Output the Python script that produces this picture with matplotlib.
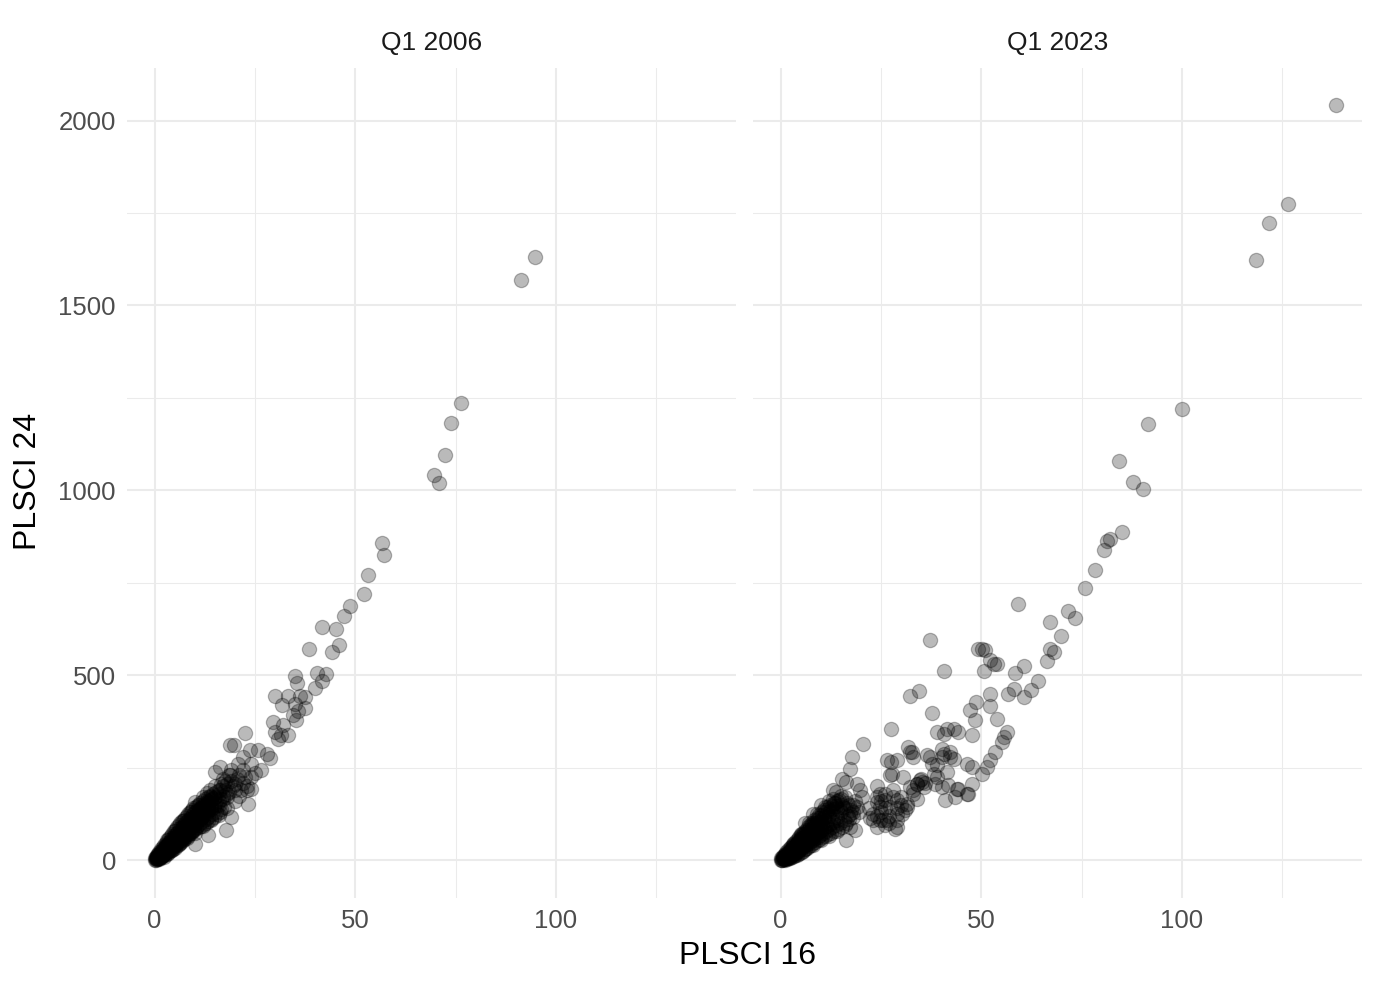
import numpy as np
import matplotlib
matplotlib.use("Agg")
import matplotlib.pyplot as plt

plt.rcParams['font.family'] = ['Liberation Sans', 'DejaVu Sans']

# facet labels and axis labels
panels = ["Q1 2006", "Q1 2023"]
x_label = "PLSCI 16"
y_label = "PLSCI 24"
x_major = [0, 50, 100]
x_minor = [25, 75, 125]
y_major = [0, 500, 1000, 1500, 2000]
y_minor = [250, 750, 1250, 1750]

# Q1 2006 points (PLSCI 16, PLSCI 24)
pts_2006 = np.array([
    # dense band near the origin
    (0.2, 2), (0.3, 4), (0.4, 5), (0.5, 9), (0.6, 6), (0.7, 4), (0.8, 12), (0.9, 7),
    (1.0, 16), (1.0, 9), (1.1, 10), (1.2, 5), (1.3, 20), (1.4, 13), (1.5, 8), (1.5, 14),
    (1.6, 24), (1.7, 16), (1.8, 11), (1.9, 28), (2.0, 20), (2.0, 18), (2.1, 14), (2.2, 32),
    (2.3, 24), (2.4, 17), (2.5, 36), (2.6, 28), (2.7, 20), (2.8, 40), (2.9, 31), (3.0, 23),
    (3.2, 45), (3.3, 35), (3.4, 26), (3.6, 50), (3.7, 39), (3.8, 30), (4.0, 55), (4.1, 43),
    (4.2, 33), (4.4, 60), (4.5, 47), (4.6, 37), (4.8, 65), (4.9, 51), (5.0, 40), (5.2, 70),
    (5.3, 56), (5.4, 44), (5.6, 75), (5.7, 60), (5.8, 48), (6.0, 80), (6.1, 64), (6.2, 52),
    (6.4, 86), (6.5, 69), (6.6, 56), (6.8, 91), (6.9, 73), (7.0, 60), (7.2, 96), (7.3, 78),
    (7.4, 64), (7.6, 101), (7.7, 83), (7.8, 68), (8.0, 106), (8.1, 88), (8.2, 72), (8.5, 112),
    (8.6, 93), (8.7, 76), (9.0, 118), (9.1, 98), (9.2, 80), (9.5, 124), (9.6, 103), (9.7, 85),
    (10.0, 130), (10.1, 108), (10.2, 90), (10.6, 136), (10.7, 114), (10.8, 95), (11.2, 142),
    (11.3, 120), (11.4, 100), (11.8, 148), (11.9, 126), (12.0, 106), (12.5, 154), (12.6, 132),
    (12.7, 112), (13.2, 160), (13.3, 138), (13.4, 118), (14.0, 166), (14.1, 145), (14.2, 124),
    (15.0, 172), (15.1, 152), (15.2, 130), (16.0, 160), (16.5, 138), (17.0, 175),
    (0.3, 1), (0.5, 3), (0.6, 8), (0.9, 11), (1.2, 9), (1.4, 17), (1.7, 12), (2.0, 25),
    (2.2, 18), (2.5, 30), (2.6, 22), (3.0, 38), (3.1, 28), (3.5, 44), (3.6, 33), (4.0, 48),
    (4.1, 38), (4.5, 54), (4.6, 42), (5.0, 60), (5.1, 47), (5.5, 66), (5.6, 52), (6.0, 72),
    (6.1, 57), (6.5, 78), (6.6, 62), (7.0, 84), (7.1, 67), (7.5, 90), (7.6, 72), (8.0, 96),
    (8.1, 78), (8.5, 102), (8.6, 84), (9.0, 108), (9.1, 89), (9.5, 114), (9.6, 94),
    (10.0, 120), (10.1, 99), (10.5, 126), (10.6, 104), (11.0, 132), (11.1, 110), (11.5, 138),
    (11.6, 115), (12.0, 144), (12.1, 120), (12.6, 150), (12.7, 126), (13.3, 156), (13.4, 132),
    (14.0, 162), (14.1, 138), (14.8, 168), (14.9, 144), (15.5, 150), (16.0, 190), (16.5, 165),
    (17.5, 190), (18.0, 205), (18.5, 185), (12.0, 170), (13.0, 182), (11.0, 150), (9.0, 130),
    (7.0, 105), (5.0, 80), (3.0, 55), (8.0, 60), (10.0, 75), (12.0, 92), (14.0, 108),
    (16.0, 122), (6.0, 45), (4.0, 28),
    (0.2, 6), (0.4, 10), (0.6, 14), (0.8, 18), (1.0, 4), (1.2, 22), (1.4, 6), (1.6, 30),
    (1.8, 20), (2.0, 36), (2.2, 10), (2.4, 42), (2.6, 14), (2.8, 48), (3.0, 16), (3.2, 54),
    (3.4, 20), (3.6, 60), (3.8, 24), (4.0, 66), (4.2, 28), (4.4, 72), (4.6, 30), (4.8, 78),
    (5.0, 34), (5.2, 84), (5.4, 38), (5.6, 90), (5.8, 42), (6.0, 95), (6.2, 46), (6.4, 100),
    (6.6, 50), (6.8, 105), (7.0, 54), (7.2, 110), (7.4, 58), (7.6, 115), (7.8, 62), (8.0, 120),
    (8.2, 66), (8.4, 125), (8.6, 70), (8.8, 130), (9.0, 74), (9.2, 135), (9.4, 78), (9.6, 140),
    (9.8, 82), (10.2, 145), (10.4, 86), (10.8, 150), (11.0, 90), (11.4, 155), (11.6, 94),
    (12.0, 160), (12.2, 98), (12.6, 165), (12.8, 102), (13.2, 170), (13.4, 106), (13.8, 175),
    (14.0, 112), (14.6, 180), (14.8, 118), (15.4, 185), (15.6, 124), (16.2, 190), (16.4, 130),
    (17.0, 165), (17.2, 145), (18.0, 180), (3.0, 40), (5.0, 62), (7.0, 88), (9.0, 112),
    (11.0, 136), (13.0, 150),
    # halo around the band
    (13.7, 189), (10.0, 158), (11.2, 135), (19.1, 117), (17.9, 81), (13.3, 68), (10.0, 45),
    (16.0, 180), (17.0, 200), (18.0, 170), (19.0, 215), (20.0, 190), (21.0, 230), (22.0, 210),
    (18.0, 140), (16.0, 150), (14.0, 170), (20.0, 160), (22.0, 245), (24.0, 225), (21.0, 175),
    (19.0, 245), (17.0, 220), (15.0, 200), (23.0, 200), (25.0, 235),
    (17.5, 215), (19.5, 200), (21.5, 190), (20.5, 220), (18.5, 230), (22.5, 225), (16.5, 205),
    (22.4, 344), (18.7, 311), (19.7, 313), (23.7, 297), (25.8, 297), (27.9, 288), (28.7, 277),
    (22.0, 279), (20.8, 261), (24.1, 261), (26.6, 243), (16.2, 252), (15.0, 239), (18.7, 230),
    (20.0, 207), (22.9, 189), (24.1, 194), (23.3, 153),
    # middle stretch
    (29.5, 374), (32.0, 365), (29.9, 347), (31.6, 338), (33.2, 338), (30.7, 329),
    (29.9, 444), (33.2, 444), (36.2, 444), (37.4, 441), (31.8, 421), (34.9, 423), (37.4, 412),
    (35.7, 403), (34.5, 392), (35.3, 380), (34.9, 498), (35.5, 480),
    (40.5, 506), (42.7, 504), (41.8, 485), (40.0, 466), (38.5, 572), (44.1, 564), (45.9, 581),
    (45.2, 625), (41.8, 631), (47.1, 660), (48.6, 687), (52.2, 719), (53.2, 772),
    (57.2, 824), (56.6, 857),
    # upper tail
    (69.6, 1041), (70.8, 1019), (72.3, 1097), (73.8, 1182), (76.3, 1235),
    (91.3, 1568), (94.8, 1632),
])

# Q1 2023 points (PLSCI 16, PLSCI 24)
pts_2023 = np.array([
    # dense band near the origin
    (0.2, 2), (0.4, 6), (0.5, 3), (0.7, 10), (0.8, 5), (1.0, 14), (1.1, 8), (1.2, 4),
    (1.4, 18), (1.5, 11), (1.6, 6), (1.8, 22), (1.9, 14), (2.0, 8), (2.2, 26), (2.3, 17),
    (2.4, 10), (2.6, 30), (2.7, 21), (2.8, 13), (3.0, 35), (3.1, 25), (3.2, 16), (3.4, 40),
    (3.5, 29), (3.6, 19), (3.8, 45), (3.9, 33), (4.0, 22), (4.2, 50), (4.3, 37), (4.4, 26),
    (4.6, 55), (4.7, 41), (4.8, 30), (5.0, 60), (5.1, 46), (5.2, 33), (5.4, 66), (5.5, 50),
    (5.6, 36), (5.8, 71), (5.9, 54), (6.0, 40), (6.3, 77), (6.4, 59), (6.5, 44), (6.8, 83),
    (6.9, 64), (7.0, 48), (7.3, 89), (7.4, 69), (7.5, 52), (7.8, 95), (7.9, 74), (8.0, 56),
    (8.4, 101), (8.5, 80), (8.6, 60), (9.0, 108), (9.1, 86), (9.2, 64), (9.6, 115), (9.7, 92),
    (9.8, 68), (10.3, 122), (10.4, 98), (10.5, 73), (11.0, 130), (11.1, 105), (11.2, 78),
    (11.8, 138), (11.9, 112), (12.0, 84), (12.7, 146), (12.8, 120), (12.9, 90), (13.6, 154),
    (13.7, 128), (13.8, 96), (14.6, 162), (14.7, 136), (14.8, 102), (15.6, 145), (15.8, 110),
    (16.5, 155), (16.8, 120), (12.0, 160), (10.0, 150), (8.0, 125), (6.0, 100), (17.5, 135),
    (18.0, 150), (14.0, 118),
    (0.3, 1), (0.6, 4), (0.9, 8), (1.2, 12), (1.3, 6), (1.7, 16), (1.8, 9), (2.1, 20),
    (2.2, 12), (2.5, 25), (2.6, 15), (2.9, 30), (3.0, 19), (3.3, 34), (3.4, 22), (3.7, 39),
    (3.8, 25), (4.1, 44), (4.2, 29), (4.5, 48), (4.6, 33), (4.9, 53), (5.0, 37), (5.3, 58),
    (5.4, 41), (5.7, 63), (5.8, 45), (6.2, 68), (6.3, 49), (6.7, 74), (6.8, 53), (7.2, 80),
    (7.3, 57), (7.7, 86), (7.8, 61), (8.2, 92), (8.3, 66), (8.8, 98), (8.9, 71), (9.4, 104),
    (9.5, 76), (10.0, 110), (10.1, 81), (10.7, 118), (10.8, 86), (11.4, 124), (11.5, 92),
    (12.2, 132), (12.3, 98), (13.0, 138), (13.1, 104), (13.9, 146), (14.0, 110), (15.0, 130),
    (15.2, 150), (16.0, 140), (17.0, 112), (18.0, 130), (19.0, 145), (9.0, 125), (7.0, 100),
    (11.0, 145), (13.0, 165), (15.0, 175), (5.0, 72), (3.0, 45), (4.0, 20), (6.0, 30),
    (8.0, 42), (10.0, 55), (12.0, 65), (14.0, 80), (16.0, 95),
    (0.2, 5), (0.4, 2), (0.6, 12), (0.8, 3), (1.0, 18), (1.2, 2), (1.4, 22), (1.6, 4),
    (1.8, 27), (2.0, 5), (2.2, 32), (2.4, 7), (2.6, 37), (2.8, 9), (3.0, 42), (3.2, 11),
    (3.4, 47), (3.6, 13), (3.8, 52), (4.0, 15), (4.2, 57), (4.4, 17), (4.6, 62), (4.8, 20),
    (5.0, 67), (5.2, 23), (5.4, 72), (5.6, 26), (5.8, 77), (6.0, 30), (6.3, 83), (6.5, 34),
    (6.8, 90), (7.0, 38), (7.3, 96), (7.5, 42), (7.8, 102), (8.0, 46), (8.4, 108), (8.6, 50),
    (9.0, 115), (9.2, 54), (9.6, 122), (9.8, 58), (10.2, 130), (10.4, 62), (10.8, 137),
    (11.0, 66), (11.6, 144), (11.8, 70), (12.4, 150), (12.6, 74), (13.2, 156), (13.4, 78),
    (14.0, 160), (14.2, 84), (15.0, 165), (15.2, 90), (16.0, 170), (16.2, 100), (17.0, 150),
    (17.2, 125), (18.5, 160), (19.5, 130), (2.0, 20), (4.0, 40), (6.0, 60), (8.0, 80),
    (10.0, 100), (12.0, 120), (14.0, 140),
    # halo around the band
    (20.4, 315), (17.7, 279), (17.25, 248), (15.2, 221), (16.4, 212), (13.9, 185), (13.1, 189),
    (18.9, 207), (19.75, 189), (20.2, 171), (24.75, 180), (23.9, 158), (26.0, 162),
    (22.25, 113), (24.75, 108), (18.1, 117), (17.25, 90), (18.5, 81), (16.4, 54),
    # second cloud
    (26.4, 270), (27.7, 234), (30.6, 225), (32.25, 293), (36.4, 284), (38.9, 257), (38.1, 234),
    (40.6, 288), (41.0, 162), (34.75, 216), (35.6, 198), (33.9, 166), (31.4, 144), (28.9, 90),
    (26.4, 108), (27.25, 144), (28.9, 162), (22.0, 140), (25.0, 130), (27.0, 120), (29.0, 140),
    (30.0, 170), (26.0, 180), (24.0, 200), (28.0, 190),
    (24.0, 120), (26.0, 140), (25.0, 160), (27.0, 100), (29.0, 125), (30.0, 150), (23.0, 110),
    (28.0, 170), (31.0, 135), (26.0, 95), (34.0, 205), (35.0, 220), (36.0, 210), (33.0, 190),
    (27.4, 354), (31.8, 306), (33.1, 279), (32.7, 293), (27.4, 265), (28.9, 270), (37.25, 279),
    (40.2, 302), (42.25, 293), (37.7, 261), (27.25, 230), (33.9, 207), (35.2, 212), (32.25, 198),
    (33.1, 180), (31.4, 153), (30.2, 126), (28.9, 108), (23.9, 171), (24.75, 144), (23.1, 126),
    (25.6, 108), (23.9, 90), (28.5, 85), (38.5, 207), (38.9, 225), (43.9, 194), (46.4, 180),
    (32.25, 443), (34.6, 457), (37.8, 398), (38.9, 347), (37.25, 596), (40.75, 512),
    (40.6, 342), (43.1, 356), (44.3, 347), (41.4, 356), (40.2, 279), (42.25, 279), (43.1, 274),
    (41.4, 238), (41.8, 203), (40.2, 198),
    # right part of the spread
    (49.3, 572), (50.2, 572), (51.0, 568), (52.25, 541), (53.1, 531), (53.9, 530), (50.6, 512),
    (60.6, 525), (58.5, 506), (64.2, 486), (62.5, 461), (60.6, 441), (58.1, 464), (56.6, 449),
    (52.1, 449), (52.25, 417), (48.7, 428), (47.25, 405), (48.5, 378), (53.9, 383), (47.7, 338),
    (56.4, 347), (55.6, 333), (55.2, 320), (53.3, 293), (52.25, 270), (51.4, 252), (50.3, 234),
    (47.7, 207), (46.8, 180), (44.3, 194), (43.5, 171), (46.4, 261), (47.7, 252),
    (59.25, 692), (67.25, 644), (69.75, 606), (67.25, 572), (68.1, 563), (66.4, 538),
    (71.7, 673), (73.25, 655), (75.75, 735), (78.25, 784), (80.6, 838), (81.4, 862),
    (82.0, 869), (85.2, 887),
    # upper tail
    (84.3, 1079), (87.8, 1024), (90.2, 1005), (91.6, 1180), (100.0, 1219),
    (118.5, 1622), (121.8, 1722), (126.5, 1773), (138.5, 2043),
])

facet_points = [pts_2006, pts_2023]

W, H = 1379, 990
fig = plt.figure(figsize=(W / 100, H / 100), dpi=100)
fig.patch.set_facecolor("white")

ax_left = [127, 753]
ax_w = 609
ax_bottom = 990 - 898
ax_h = 830

for i, (label, pts) in enumerate(zip(panels, facet_points)):
    ax = fig.add_axes([ax_left[i] / W, ax_bottom / H, ax_w / W, ax_h / H])
    ax.set_xlim(-6.9, 144.9)
    ax.set_ylim(-102, 2142)
    for s in ax.spines.values():
        s.set_visible(False)

    # grid drawn by hand so minor lines stay thinner than major ones
    for v in x_minor:
        ax.axvline(v, color="#EBEBEB", lw=0.75, zorder=0)
    for v in y_minor:
        ax.axhline(v, color="#EBEBEB", lw=0.75, zorder=0)
    for v in x_major:
        ax.axvline(v, color="#EBEBEB", lw=1.5, zorder=0)
    for v in y_major:
        ax.axhline(v, color="#EBEBEB", lw=1.5, zorder=0)

    ax.scatter(pts[:, 0], pts[:, 1], s=105, color="black", alpha=0.27,
               edgecolors="black", linewidths=0.9, zorder=2)

    ax.set_xticks(x_major)
    ax.set_xticklabels([str(v) for v in x_major])
    ax.set_yticks(y_major)
    if i == 0:
        ax.set_yticklabels([str(v) for v in y_major])
    else:
        ax.set_yticklabels([])
    ax.tick_params(length=0, labelsize=18.5, colors="#4D4D4D", pad=8)

    ax.text(0.5, 1.0 + 25 / ax_h, label, transform=ax.transAxes, ha="center",
            va="center", fontsize=19, color="#1A1A1A")

fig.text(747 / W, 1 - 956 / H, x_label, ha="center", va="center", fontsize=23)
fig.text(28 / W, 1 - 481 / H, y_label, ha="center", va="center", fontsize=23,
         rotation=90)

fig.savefig("out.png", dpi=100, facecolor="white")
